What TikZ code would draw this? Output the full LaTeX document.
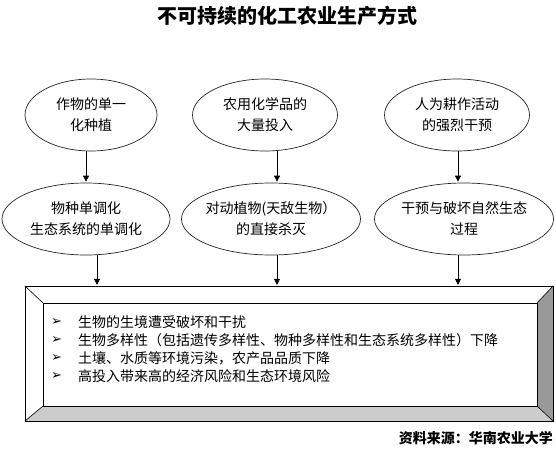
\documentclass[tikz,border=0pt]{standalone}
\usepackage{fontspec}
\newfontfamily\cjk{Noto Sans CJK SC}
\newfontfamily\symfont{DejaVu Sans}
\usetikzlibrary{shapes.geometric,arrows.meta}
\newcommand\zc[1]{\makebox[0pt]{#1}}
\definecolor{bevR}{HTML}{999999}
\definecolor{bevB}{HTML}{CCCCCC}
\tikzset{
  oval/.style={draw=black!85, line width=0.7pt, ellipse, inner sep=0pt,
    minimum height=72pt, align=center, font=\cjk\fontsize{14}{21}\selectfont},
  arr/.style={line width=0.7pt, -{Triangle[length=6pt,width=6pt]}, shorten >=1pt},
  boxtxt/.style={anchor=west, inner sep=0pt, font=\cjk\fontsize{14}{16}\selectfont},
  bul/.style={anchor=west, inner sep=0pt, font=\symfont\bfseries\fontsize{13}{14}\selectfont},
  edge/.style={line width=0.6pt, draw=black}
}
\begin{document}
\begin{tikzpicture}[x=1pt,y=-1pt]
\useasboundingbox (0,0) rectangle (556,452);
\fill[white] (0,0) rectangle (556,452);

% title
\node[font=\cjk\bfseries\fontsize{20}{24}\selectfont, inner sep=0pt] (title) at (287,16) {不可持续的化工农业生产方式};

% top row
\node[oval, minimum width=132pt] (e1) at (91,115) {\zc{作物的单一}\\\zc{化种植}};
\node[oval, minimum width=145pt] (e2) at (265,115) {\zc{农用化学品的}\\\zc{大量投入}};
\node[oval, minimum width=145pt] (e3) at (457,115) {\zc{人为耕作活动}\\\zc{的强烈干预}};

% second row
\node[oval, minimum width=168pt] (f1) at (86,219) {\zc{物种单调化}\\\zc{生态系统的单调化}};
\node[oval, minimum width=179pt] (f2) at (271,219) {\zc{对动植物(天敌生物）}\\\zc{的直接杀灭}};
\node[oval, minimum width=179pt] (f3) at (464,219) {\zc{干预与破坏自然生态}\\\zc{过程}};

% bevelled box
\node[minimum width=528pt, minimum height=135pt, inner sep=0pt] (outer) at (289,353.5) {};
\node[minimum width=494pt, minimum height=103pt, inner sep=0pt] (inner) at (290,354.5) {};
\fill[white] (outer.north west) -- (outer.north east) -- (inner.north east) -- (inner.north west) -- cycle;
\fill[white] (outer.north west) -- (inner.north west) -- (inner.south west) -- (outer.south west) -- cycle;
\fill[bevR] (outer.north east) -- (outer.south east) -- (inner.south east) -- (inner.north east) -- cycle;
\fill[bevB] (outer.south west) -- (inner.south west) -- (inner.south east) -- (outer.south east) -- cycle;
\draw[edge] (outer.north west) rectangle (outer.south east);
\draw[edge] (inner.north west) rectangle (inner.south east);
\draw[edge] (outer.north west) -- (inner.north west);
\draw[edge] (outer.north east) -- (inner.north east);
\draw[edge] (outer.south west) -- (inner.south west);
\draw[edge] (outer.south east) -- (inner.south east);

% box text
\node[bul] (b1) at (51,322) {➢};
\node[bul] (b2) at (51,340) {➢};
\node[bul] (b3) at (51,358) {➢};
\node[bul] (b4) at (51,376) {➢};
\node[boxtxt] (t1) at (78,322) {生物的生境遭受破坏和干扰};
\node[boxtxt] (t2) at (78,340) {生物多样性（包括遗传多样性、物种多样性和生态系统多样性）下降};
\node[boxtxt] (t3) at (78,358) {土壤、水质等环境污染，农产品品质下降};
\node[boxtxt] (t4) at (78,376) {高投入带来高的经济风险和生态环境风险};

% connectors
\coordinate (x1) at (86,0);
\coordinate (x2) at (277,0);
\coordinate (x3) at (458,0);
\coordinate (y1) at (97,0);
\draw[arr] (e1.south -| x1) -- (f1.north -| x1);
\draw[arr] (e2.south -| x2) -- (f2.north -| x2);
\draw[arr] (e3.south -| x3) -- (f3.north -| x3);
\draw[arr] (f1.south -| y1) -- (outer.north -| y1);
\draw[arr] (f2.south -| x2) -- (outer.north -| x2);
\draw[arr] (f3.south -| x3) -- (outer.north -| x3);

% source
\node[font=\cjk\bfseries\fontsize{14}{16}\selectfont, anchor=east, inner sep=0pt] (src) at (553,438) {资料来源：华南农业大学};
\end{tikzpicture}
\end{document}
